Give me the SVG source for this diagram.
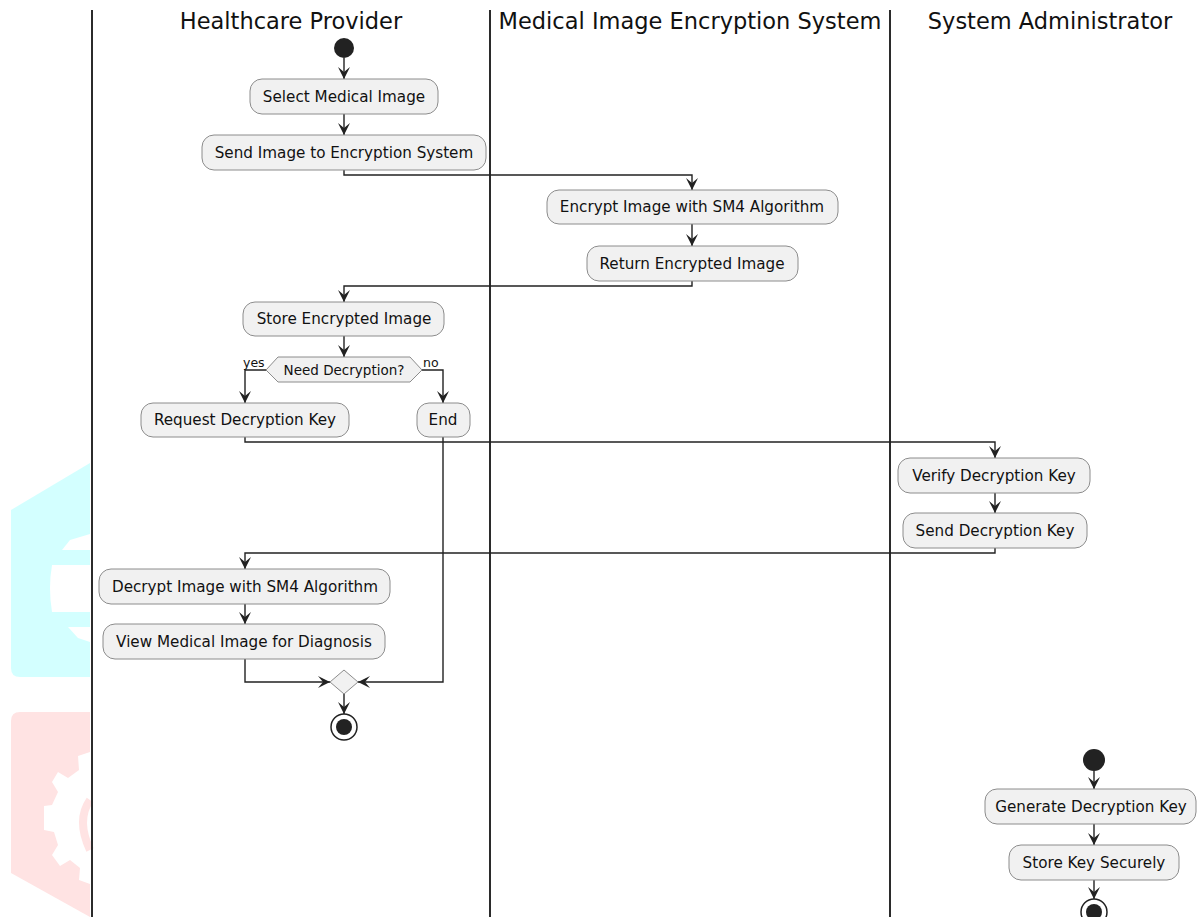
<svg xmlns="http://www.w3.org/2000/svg" width="1198" height="917" viewBox="0 0 1198 917">
<style>
.lane{stroke:#2b2b2b;stroke-width:2;fill:none}
.title{font-family:"DejaVu Sans",sans-serif;font-size:22.5px;fill:#111;text-anchor:middle}
.box{fill:#f1f1f1;stroke:#8c8c8c;stroke-width:1}
.lbl{font-family:"DejaVu Sans",sans-serif;font-size:15.2px;fill:#111;text-anchor:middle}
.small{font-family:"DejaVu Sans",sans-serif;font-size:12.5px;fill:#111}
.edge{stroke:#222;stroke-width:1.4;fill:none;marker-end:url(#arr)}
.start{fill:#222}
</style>
<defs>
<marker id="arr" viewBox="0 0 12 12" refX="12" refY="6" markerWidth="12" markerHeight="12" markerUnits="userSpaceOnUse" orient="auto">
<path d="M0,0 L12,6 L0,12 L5,6 Z" fill="#222"/>
</marker>
</defs>
<rect width="1198" height="917" fill="#fff"/>
<g id="watermark">
<path d="M90,463 L11,510 L11,668 Q11,677 20,677 L90,677 Z" fill="#d3ffff"/>
<path d="M90,534 L70,540 L62,550 L90,550 Z" fill="#fff"/>
<path d="M90,565 L52,565 Q48,588 52,612 L90,612 Z" fill="#fff"/>
<path d="M68,627 L90,627 L90,642 L78,638 Z" fill="#fff"/>
<path d="M20,712 L90,712 L90,917 L11,873 L11,721 Q11,712 20,712 Z" fill="#ffe3e3"/>
<path d="M90,752 L78,756 L79,770 L68,778 L58,772 L52,782 L58,792 L52,805 L44,806 L44,830 L54,832 L58,845 L52,855 L60,866 L70,860 L80,868 L79,880 L90,884 Z" fill="#fff"/>
<path d="M90,800 Q76,820 90,850" fill="none" stroke="#ffe3e3" stroke-width="8"/>
</g>
<g id="lanes">
<line class="lane" x1="92" y1="10" x2="92" y2="917"/>
<line class="lane" x1="490" y1="10" x2="490" y2="917"/>
<line class="lane" x1="890" y1="10" x2="890" y2="917"/>
<text class="title" x="291" y="29">Healthcare Provider</text>
<text class="title" x="690" y="29">Medical Image Encryption System</text>
<text class="title" x="1050" y="29">System Administrator</text>
</g>
<g id="connectors">
<path class="edge" d="M344,58 L344,79"/>
<path class="edge" d="M344,114 L344,135"/>
<path class="edge" d="M344,170 L344,175 L692,175 L692,190"/>
<path class="edge" d="M692,224 L692,246"/>
<path class="edge" d="M692,281 L692,286 L344,286 L344,302"/>
<path class="edge" d="M344,336 L344,357"/>
<path class="edge" d="M266,370 L245,370 L245,403"/>
<path class="edge" d="M422,370 L443,370 L443,403"/>
<path class="edge" d="M245,437 L245,442 L995,442 L995,458"/>
<path class="edge" d="M995,493 L995,513"/>
<path class="edge" d="M995,548 L995,553 L245,553 L245,569"/>
<path class="edge" d="M245,604 L245,624"/>
<path class="edge" d="M245,659 L245,682 L330,682"/>
<path class="edge" d="M443,437 L443,682 L358,682"/>
<path class="edge" d="M344,694 L344,714"/>
<path class="edge" d="M1094,771 L1094,789"/>
<path class="edge" d="M1094,824 L1094,845"/>
<path class="edge" d="M1094,880 L1094,899"/>
<text class="small" x="243" y="367">yes</text>
<text class="small" x="423" y="367">no</text>
</g>
<g id="start1"><circle class="start" cx="344" cy="48" r="10"/></g>
<g id="select"><rect class="box" x="250" y="79" width="188" height="35" rx="12"/><text class="lbl" x="344" y="102">Select Medical Image</text></g>
<g id="send"><rect class="box" x="202" y="135" width="284" height="35" rx="12"/><text class="lbl" x="344" y="158">Send Image to Encryption System</text></g>
<g id="encrypt"><rect class="box" x="547" y="190" width="291" height="34" rx="12"/><text class="lbl" x="692" y="212">Encrypt Image with SM4 Algorithm</text></g>
<g id="return"><rect class="box" x="587" y="246" width="211" height="35" rx="12"/><text class="lbl" x="692" y="269">Return Encrypted Image</text></g>
<g id="store"><rect class="box" x="243" y="302" width="201" height="34" rx="12"/><text class="lbl" x="344" y="324">Store Encrypted Image</text></g>
<g id="decision"><polygon class="box" points="266,370 278,357 410,357 422,370 410,382 278,382"/><text class="lbl" x="344" y="375" style="font-size:13.5px">Need Decryption?</text></g>
<g id="request"><rect class="box" x="141" y="403" width="208" height="34" rx="12"/><text class="lbl" x="245" y="425">Request Decryption Key</text></g>
<g id="end"><rect class="box" x="417" y="403" width="53" height="34" rx="12"/><text class="lbl" x="443" y="425">End</text></g>
<g id="verify"><rect class="box" x="898" y="458" width="192" height="35" rx="12"/><text class="lbl" x="994" y="481">Verify Decryption Key</text></g>
<g id="sendkey"><rect class="box" x="903" y="513" width="184" height="35" rx="12"/><text class="lbl" x="995" y="536">Send Decryption Key</text></g>
<g id="decrypt"><rect class="box" x="99" y="569" width="291" height="35" rx="12"/><text class="lbl" x="245" y="592">Decrypt Image with SM4 Algorithm</text></g>
<g id="view"><rect class="box" x="103" y="624" width="282" height="35" rx="12"/><text class="lbl" x="244" y="647">View Medical Image for Diagnosis</text></g>
<g id="merge"><polygon class="box" points="330,682 344,670 358,682 344,694"/></g>
<g id="stop1"><circle cx="344" cy="727" r="13" fill="#fff" stroke="#222" stroke-width="1.5"/><circle class="start" cx="344" cy="727" r="8"/></g>
<g id="start2"><circle class="start" cx="1094" cy="760" r="11"/></g>
<g id="generate"><rect class="box" x="985" y="789" width="211" height="35" rx="12"/><text class="lbl" x="1091" y="812">Generate Decryption Key</text></g>
<g id="storekey"><rect class="box" x="1009" y="845" width="170" height="35" rx="12"/><text class="lbl" x="1094" y="868">Store Key Securely</text></g>
<g id="stop2"><circle cx="1094" cy="912" r="13" fill="#fff" stroke="#222" stroke-width="1.5"/><circle class="start" cx="1094" cy="912" r="8"/></g>
</svg>
